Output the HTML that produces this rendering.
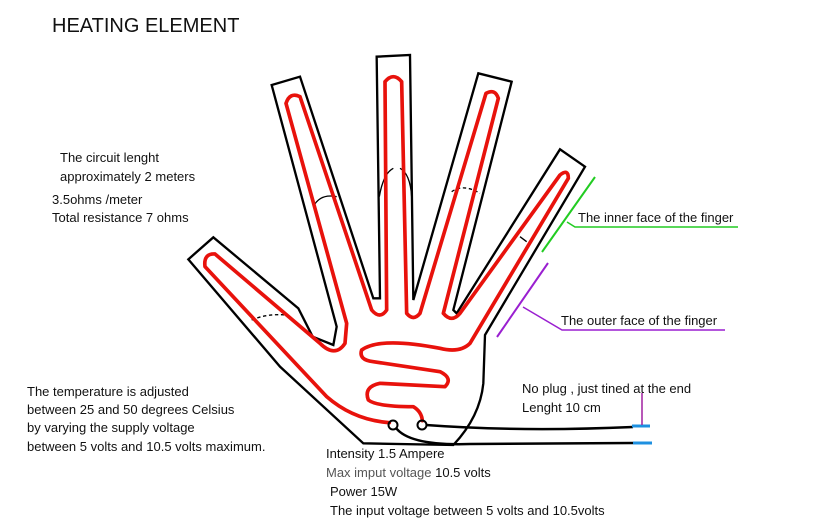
<!DOCTYPE html>
<html><head><meta charset="utf-8"><style>
html,body{margin:0;padding:0;background:#fff;}
svg{display:block;}
text{font-family:"Liberation Sans",sans-serif;font-size:13px;fill:#111;}
</style></head><body>
<svg width="827" height="532" viewBox="0 0 827 532" xmlns="http://www.w3.org/2000/svg">
<text x="52" y="32" style="font-size:20px">HEATING ELEMENT</text>

<!-- hand outline -->
<g transform="translate(180,50) scale(0.33333)" fill="none" stroke="#000" stroke-width="7" stroke-linejoin="miter">
<path d="M25,628 L100,562 L355,775 L398,860 L460,885 L470,830 L275,105 L360,80 L580,745 L600,745 L590,20 L690,15 L700,750 L895,70 L995,95 L820,780 L830,790 L1140,298 L1215,350 L915,855 L910,1000 Q900,1100 820,1185 L550,1180 L300,950 L25,628 Z"/>
<!-- joint marks -->
<path d="M400,470 Q420,430 470,440" stroke-width="4"/>
<path d="M598,440 Q610,370 640,355 M660,355 Q690,370 695,440" stroke-width="4"/>
<path d="M815,425 Q850,400 900,430" stroke-width="4" stroke-dasharray="10,8"/>
<path d="M215,810 Q260,790 320,795" stroke-width="4" stroke-dasharray="10,8"/>
<path d="M1020,560 L1040,575" stroke-width="4"/>
</g>
<!-- red trace -->
<g transform="translate(180,50) scale(0.33333)" fill="none" stroke="#e8120c" stroke-width="11" stroke-linecap="round" stroke-linejoin="round">
<path d="M628,1118 Q520,1110 440,1040 L75,650 Q70,610 105,612 L420,880 Q465,925 495,880 L500,820 L318,160 Q330,125 360,140 L575,780 Q600,810 620,780 L615,95 Q640,65 665,95 L680,790 Q700,815 720,790 L918,130 Q945,115 955,145 L790,790 Q815,820 840,790 L1140,375 Q1165,355 1165,385 L870,880 Q840,910 780,895 Q600,860 545,900 Q535,930 580,935 L780,965 Q820,985 795,1010 L600,1000 Q550,1010 565,1050 Q590,1070 700,1070 Q725,1085 727,1112"/>
</g>
<!-- terminals -->
<circle cx="393" cy="425" r="4.5" fill="none" stroke="#000" stroke-width="2"/>
<circle cx="422" cy="425" r="4.5" fill="none" stroke="#000" stroke-width="2"/>
<!-- wires -->
<path d="M426,425 Q520,432 633,427" fill="none" stroke="#000" stroke-width="2.5"/>
<path d="M396,428 Q410,446 470,444 L633,443" fill="none" stroke="#000" stroke-width="2.5"/>
<line x1="632" y1="426" x2="650" y2="426" stroke="#1e90e0" stroke-width="3"/>
<line x1="633" y1="443" x2="652" y2="443" stroke="#1e90e0" stroke-width="3"/>
<line x1="642" y1="393" x2="642" y2="425" stroke="#a020a0" stroke-width="1.5"/>
<!-- green -->
<line x1="595" y1="177" x2="542" y2="252" stroke="#22cc22" stroke-width="2"/>
<polyline points="567,222 575,227 738,227" fill="none" stroke="#22cc22" stroke-width="1.5"/>
<text x="578" y="222">The inner face of the finger</text>
<!-- purple -->
<line x1="548" y1="263" x2="497" y2="337" stroke="#9a1fd0" stroke-width="2"/>
<polyline points="523,307 562,330 725,330" fill="none" stroke="#9a1fd0" stroke-width="1.5"/>
<text x="561" y="325">The outer face of the finger</text>

<text x="60" y="162">The circuit lenght</text>
<text x="60" y="181">approximately 2 meters</text>
<text x="52" y="204">3.5ohms /meter</text>
<text x="52" y="222">Total resistance 7 ohms</text>

<text x="27" y="396">The temperature is adjusted</text>
<text x="27" y="414">between 25 and 50 degrees Celsius</text>
<text x="27" y="432">by varying the supply voltage</text>
<text x="27" y="451">between 5 volts and 10.5 volts maximum.</text>

<text x="522" y="393">No plug , just tined at the end</text>
<text x="522" y="412">Lenght 10 cm</text>

<text x="326" y="458">Intensity 1.5 Ampere</text>
<text x="326" y="477"><tspan style="fill:#555">Max imput voltage</tspan> 10.5 volts</text>
<text x="330" y="496">Power 15W</text>
<text x="330" y="515">The input voltage between  5 volts and 10.5volts</text>
</svg>
</body></html>
